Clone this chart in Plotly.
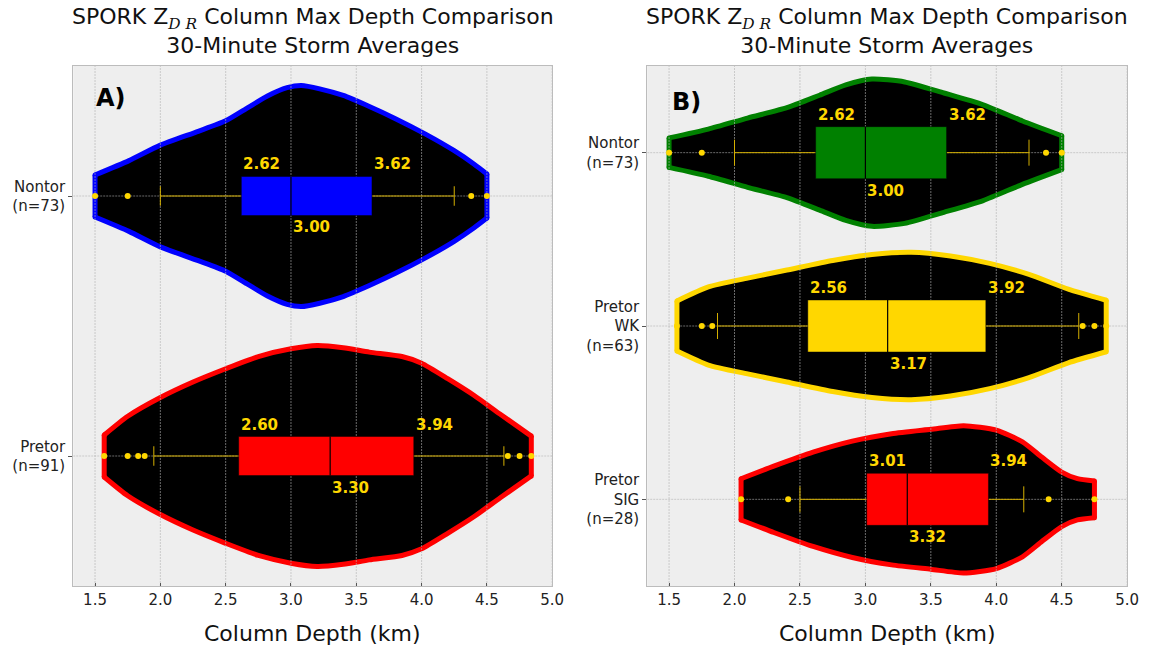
import plotly.graph_objects as go

# ---------------- data ----------------
# Panel A
A_LABELS = ["Pretor<br>(n=91)", "Nontor<br>(n=73)"]
A_COLORS = ["#ff0000", "#0000ff"]

# violin profiles: depth (km) and relative half-width (0..1)
A_NONTOR_DEPTH = [1.50, 1.76, 2.00, 2.29, 2.50, 2.67, 2.82, 2.97, 3.08, 3.22, 3.40, 3.60, 3.80, 4.03, 4.25, 4.40, 4.50]
A_NONTOR_WIDTH = [0.19, 0.32, 0.46, 0.585, 0.68, 0.80, 0.905, 0.98, 1.00, 0.97, 0.91, 0.81, 0.70, 0.56, 0.41, 0.29, 0.20]
A_PRETOR_DEPTH = [1.57, 1.75, 2.00, 2.25, 2.50, 2.75, 3.00, 3.20, 3.40, 3.60, 3.85, 4.00, 4.20, 4.40, 4.60, 4.84]
A_PRETOR_WIDTH = [0.19, 0.36, 0.53, 0.67, 0.79, 0.90, 0.97, 1.00, 0.98, 0.94, 0.90, 0.84, 0.70, 0.55, 0.38, 0.18]

# box stats: lower whisker, q1, median, q3, upper whisker
A_NONTOR_STATS = [2.00, 2.62, 3.00, 3.62, 4.25]
A_PRETOR_STATS = [1.95, 2.60, 3.30, 3.94, 4.63]
A_NONTOR_OUT = [1.50, 1.75, 4.38, 4.50]
A_PRETOR_OUT = [1.57, 1.75, 1.83, 1.88, 4.66, 4.75, 4.84]

# Panel B
B_LABELS = ["Pretor<br>SIG<br>(n=28)", "Pretor<br>WK<br>(n=63)", "Nontor<br>(n=73)"]
B_COLORS = ["#ff0000", "#ffd700", "#008000"]

B_NONTOR_DEPTH = [1.50, 1.80, 2.10, 2.40, 2.65, 2.85, 3.05, 3.30, 3.60, 3.90, 4.20, 4.50]
B_NONTOR_WIDTH = [0.20, 0.32, 0.47, 0.61, 0.78, 0.92, 1.00, 0.96, 0.81, 0.65, 0.43, 0.23]
B_WK_DEPTH = [1.56, 1.80, 2.10, 2.40, 2.75, 3.05, 3.35, 3.65, 3.95, 4.25, 4.55, 4.84]
B_WK_WIDTH = [0.34, 0.53, 0.65, 0.76, 0.89, 0.97, 1.00, 0.95, 0.85, 0.70, 0.50, 0.35]
B_SIG_DEPTH = [2.05, 2.30, 2.60, 2.90, 3.20, 3.50, 3.75, 4.00, 4.20, 4.35, 4.50, 4.62, 4.75]
B_SIG_WIDTH = [0.28, 0.45, 0.64, 0.79, 0.89, 0.95, 1.00, 0.94, 0.78, 0.57, 0.37, 0.28, 0.25]

B_NONTOR_STATS = [2.00, 2.62, 3.00, 3.62, 4.25]
B_WK_STATS = [1.87, 2.56, 3.17, 3.92, 4.63]
B_SIG_STATS = [2.50, 3.01, 3.32, 3.94, 4.21]
B_NONTOR_OUT = [1.50, 1.75, 4.38, 4.50]
B_WK_OUT = [1.56, 1.75, 1.83, 4.66, 4.75, 4.84]
B_SIG_OUT = [2.05, 2.41, 4.40, 4.75]

X_TICKS = [1.5, 2.0, 2.5, 3.0, 3.5, 4.0, 4.5, 5.0]
X_RANGE = [1.333, 5.0]

# ---------------- styling ----------------
BG = "#eeeeee"
SPINE = "#bcbcbc"
GRID = "#b2b2b2"
WHISK = "#d4af00"
PT = "gold"
FONT = "DejaVu Sans"
VHALF = 0.425
VLW = 5

fig = go.Figure()


def add_panel(xa, ya, groups, y_range, box_half):
    # violins
    for pos, (depth, rel, color, stats, outs) in enumerate(groups):
        up = [pos + r * VHALF for r in rel]
        lo = [pos - r * VHALF for r in rel]
        line = dict(color=color, width=VLW, shape="spline", smoothing=0.6)
        fig.add_trace(go.Scatter(x=depth, y=lo, xaxis=xa, yaxis=ya, mode="lines", line=line,
                                 hoverinfo="skip", showlegend=False))
        fig.add_trace(go.Scatter(x=depth, y=up, xaxis=xa, yaxis=ya, mode="lines", line=line,
                                 fill="tonexty", fillcolor="black",
                                 hoverinfo="skip", showlegend=False))
        fig.add_trace(go.Scatter(x=[depth[0], depth[0], None, depth[-1], depth[-1]],
                                 y=[lo[0], up[0], None, lo[-1], up[-1]],
                                 xaxis=xa, yaxis=ya, mode="lines+markers",
                                 line=dict(color=color, width=VLW),
                                 marker=dict(color=color, size=VLW, line=dict(width=0)),
                                 hoverinfo="skip", showlegend=False))
    # grid lines (drawn over violins, under boxes)
    gx, gy = [], []
    for t in X_TICKS:
        gx += [t, t, None]
        gy += [y_range[0], y_range[1], None]
    for pos in range(len(groups)):
        gx += [X_RANGE[0], X_RANGE[1], None]
        gy += [pos, pos, None]
    fig.add_trace(go.Scatter(x=gx, y=gy, xaxis=xa, yaxis=ya, mode="lines",
                             line=dict(color=GRID, width=0.6, dash="2px,1px"),
                             hoverinfo="skip", showlegend=False))
    # boxes, whiskers, outliers
    suffix = "" if xa == "x" else xa[1:]
    for pos, (depth, rel, color, stats, outs) in enumerate(groups):
        lw, q1, med, q3, hw = stats
        cap = box_half / 2
        fig.add_trace(go.Scatter(
            x=[lw, q1, None, q3, hw, None, lw, lw, None, hw, hw],
            y=[pos, pos, None, pos, pos, None, pos - cap, pos + cap, None, pos - cap, pos + cap],
            xaxis=xa, yaxis=ya, mode="lines", line=dict(color=WHISK, width=1),
            hoverinfo="skip", showlegend=False))
        fig.add_trace(go.Scatter(
            x=[q1, q3, q3, q1, q1],
            y=[pos - box_half, pos - box_half, pos + box_half, pos + box_half, pos - box_half],
            xaxis=xa, yaxis=ya, mode="lines", fill="toself", fillcolor=color,
            line=dict(color="rgba(0,0,0,0.45)", width=1), hoverinfo="skip", showlegend=False))
        fig.add_trace(go.Scatter(
            x=[med, med], y=[pos - box_half, pos + box_half], xaxis=xa, yaxis=ya,
            mode="lines", line=dict(color="black", width=1.2), hoverinfo="skip", showlegend=False))
        fig.add_trace(go.Scatter(
            x=outs, y=[pos] * len(outs), xaxis=xa, yaxis=ya, mode="markers",
            marker=dict(color=PT, size=6), hoverinfo="skip", showlegend=False))
        for val, yy, ya_anchor, ysh in [(q1, pos + box_half, "bottom", 1),
                                        (q3, pos + box_half, "bottom", 1),
                                        (med, pos - box_half, "top", -1)]:
            fig.add_annotation(x=val, y=yy, xref="x" + suffix, yref="y" + suffix,
                               text="<b>%.2f</b>" % val, showarrow=False,
                               xanchor="left", yanchor=ya_anchor, yshift=ysh,
                               font=dict(family=FONT, size=15, color=PT))


add_panel("x", "y",
          [(A_PRETOR_DEPTH, A_PRETOR_WIDTH, A_COLORS[0], A_PRETOR_STATS, A_PRETOR_OUT),
           (A_NONTOR_DEPTH, A_NONTOR_WIDTH, A_COLORS[1], A_NONTOR_STATS, A_NONTOR_OUT)],
          [-0.5, 1.5], 0.075)
add_panel("x2", "y2",
          [(B_SIG_DEPTH, B_SIG_WIDTH, B_COLORS[0], B_SIG_STATS, B_SIG_OUT),
           (B_WK_DEPTH, B_WK_WIDTH, B_COLORS[1], B_WK_STATS, B_WK_OUT),
           (B_NONTOR_DEPTH, B_NONTOR_WIDTH, B_COLORS[2], B_NONTOR_STATS, B_NONTOR_OUT)],
          [-0.5, 2.5], 0.15)

W, H = 1156, 646
XD1 = [74 / W, 558 / W]
XD2 = [654 / W, 1139 / W]
YD = [1 - 586 / H, 1 - 66 / H]

xcommon = dict(range=X_RANGE, tickvals=X_TICKS, ticktext=["%.1f" % t for t in X_TICKS],
               showgrid=False, zeroline=False, showline=True, linecolor=SPINE, linewidth=1,
               mirror=True, ticks="inside", ticklen=3, tickcolor="#555555",
               tickfont=dict(family=FONT, size=15, color="#222222"))
ycommon = dict(showgrid=False, zeroline=False, showline=True, linecolor=SPINE, linewidth=1,
               mirror=True, ticks="outside", ticklen=4, tickcolor="#555555",
               tickfont=dict(family=FONT, size=15, color="#222222"))

fig.update_layout(
    width=W, height=H, margin=dict(l=0, r=0, t=0, b=0),
    paper_bgcolor="white", plot_bgcolor=BG,
    xaxis=dict(domain=XD1, anchor="y", **xcommon),
    yaxis=dict(domain=YD, anchor="x", range=[-0.5, 1.5], tickvals=[0, 1], ticktext=A_LABELS, **ycommon),
    xaxis2=dict(domain=XD2, anchor="y2", **xcommon),
    yaxis2=dict(domain=YD, anchor="x2", range=[-0.5, 2.5], tickvals=[0, 1, 2], ticktext=B_LABELS, **ycommon),
    font=dict(family=FONT, color="#222222"),
)

title = ("SPORK Z<sub><span style='font-family:DejaVu Serif'><i>D R</i></span></sub>"
         " Column Max Depth Comparison<br>30-Minute Storm Averages")
for xd in (XD1, XD2):
    cx = (xd[0] + xd[1]) / 2
    fig.add_annotation(x=cx, y=1 - 31 / H, xref="paper", yref="paper", text=title,
                       showarrow=False, xanchor="center", yanchor="middle",
                       font=dict(family=FONT, size=22, color="#111111"))
    fig.add_annotation(x=cx, y=1 - 633 / H, xref="paper", yref="paper", text="Column Depth (km)",
                       showarrow=False, xanchor="center", yanchor="middle",
                       font=dict(family=FONT, size=22, color="#111111"))

fig.add_annotation(x=0.043, y=0.938, xref="x domain", yref="y domain", text="<b>A)</b>",
                   showarrow=False, xanchor="left", yanchor="middle",
                   font=dict(family=FONT, size=24, color="black"))
fig.add_annotation(x=0.047, y=0.930, xref="x2 domain", yref="y2 domain", text="<b>B)</b>",
                   showarrow=False, xanchor="left", yanchor="middle",
                   font=dict(family=FONT, size=24, color="black"))

fig.write_html("out.html")
